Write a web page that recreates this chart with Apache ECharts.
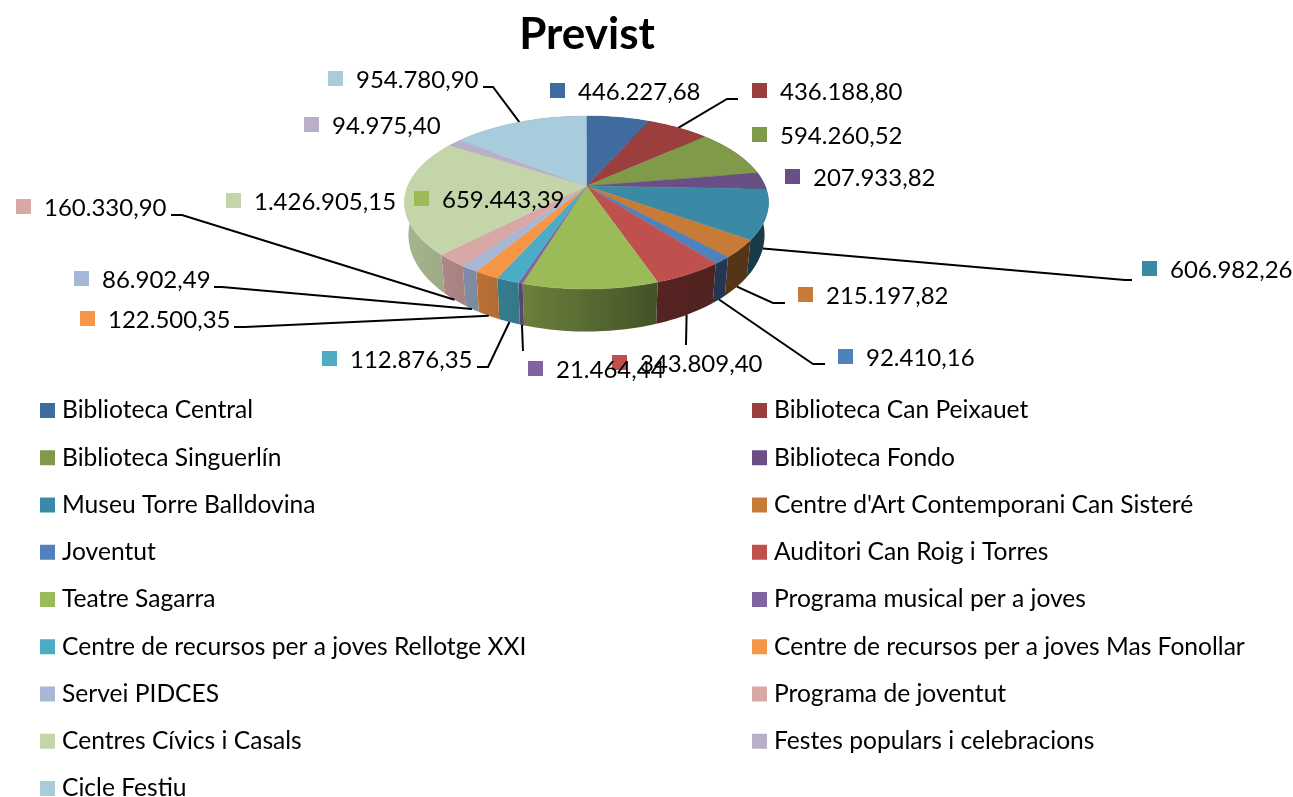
<!DOCTYPE html>
<html>
<head>
<meta charset="utf-8">
<title>Previst</title>
<style>
    html, body { margin: 0; padding: 0; background: #fff; }
    #chart { width: 1293px; height: 797px; }
</style>
</head>
<body>
<div id="chart"></div>
<script src="https://cdn.jsdelivr.net/npm/echarts@6/dist/echarts.min.js"></script>
<script type="text/javascript">
    var names = ['Biblioteca Central', 'Biblioteca Can Peixauet', 'Biblioteca Singuerlín', 'Biblioteca Fondo',
        'Museu Torre Balldovina', "Centre d'Art Contemporani Can Sisteré", 'Joventut', 'Auditori Can Roig i Torres',
        'Teatre Sagarra', 'Programa musical per a joves', 'Centre de recursos per a joves Rellotge XXI',
        'Centre de recursos per a joves Mas Fonollar', 'Servei PIDCES', 'Programa de joventut',
        'Centres Cívics i Casals', 'Festes populars i celebracions', 'Cicle Festiu'];
    var values = [446227.68, 436188.80, 594260.52, 207933.82, 606982.26, 215197.82, 92410.16, 343809.40,
        659443.39, 21464.44, 112876.35, 122500.35, 86902.49, 160330.90, 1426905.15, 94975.40, 954780.90];
    var valueLabels = ['446.227,68', '436.188,80', '594.260,52', '207.933,82', '606.982,26', '215.197,82',
        '92.410,16', '343.809,40', '659.443,39', '21.464,44', '112.876,35', '122.500,35', '86.902,49',
        '160.330,90', '1.426.905,15', '94.975,40', '954.780,90'];
    var colors = ['#3f6b9f', '#9a3f3d', '#7f9a48', '#6a4f85', '#3a8aa5', '#c87b37', '#4f81bd', '#c0504d',
        '#9bbb59', '#8064a2', '#4bacc6', '#f79646', '#a7b7d6', '#d8a8a7', '#c4d5a9', '#b9afc9', '#a8ccdb'];

    // label marker top-left, then the elbow of the leader line (none for slices without one)
    var markerPos = [[550, 83], [752, 83], [752, 127], [785, 169], [1142, 261], [798, 287], [838, 349], [612, 355],
        [414, 191], [528, 361], [322, 351], [80, 311], [74, 271], [16, 199], [226, 193], [304, 117], [328, 71]];
    var leaderPos = [null, [[727, 99], [738, 99]], null, null, [[1125, 280], [1132, 280]], [[773, 303], [785, 303]],
        [[813, 364], [825, 364]], [[686, 345]], null, [[523, 351]], [[488, 367], [477, 367]], [[245, 327], [234, 327]],
        [[222, 287], [214, 287]], [[182, 215], [171, 215]], null, null, [[493, 87], [483, 87]]];

    var FONT = 'Lato';
    var total = 0;
    var starts = [];
    for (var i = 0; i < values.length; i++) {
        starts.push(total);
        total += values[i];
    }

    // perspective view of the disc, top and bottom plane
    var CX = 586.5, PERSP = 0.1908;
    function topPoint(deg) {
        var t = deg * Math.PI / 180, X = Math.sin(t), Y = -Math.cos(t), w = 1 - PERSP * Y;
        return [CX + 178.7 * X / w, 186 + 83.35 * Y / w];
    }
    function bottomPoint(deg) {
        var t = deg * Math.PI / 180, X = Math.sin(t), Y = -Math.cos(t), w = 1 - PERSP * Y;
        return [CX + 174.8 * X / w, 216.6 + 93 * Y / w];
    }
    function arc(fn, from, to) {
        var pts = [], n = Math.max(2, Math.ceil((to - from) / 1.5));
        for (var k = 0; k <= n; k++) {
            pts.push(fn(from + (to - from) * k / n));
        }
        return pts;
    }
    // wall brightness falls from left to right
    function wallFactor(x) {
        var xs = [405, 500, 530, 650, 770], fs = [0.85, 0.72, 0.68, 0.44, 0.42];
        for (var k = 1; k < xs.length; k++) {
            if (x <= xs[k]) {
                return fs[k - 1] + (fs[k] - fs[k - 1]) * (x - xs[k - 1]) / (xs[k] - xs[k - 1]);
            }
        }
        return fs[fs.length - 1];
    }
    function shade(hex, f) {
        var r = parseInt(hex.substr(1, 2), 16), g = parseInt(hex.substr(3, 2), 16), b = parseInt(hex.substr(5, 2), 16);
        return 'rgb(' + Math.round(r * f) + ',' + Math.round(g * f) + ',' + Math.round(b * f) + ')';
    }

    function makeRender(idx) {
        return function (params, api) {
            var from = starts[idx] / total * 360;
            var to = from + api.value(0) / total * 360;
            var mid = (from + to) / 2;
            var color = colors[idx];
            var children = [];

            // wall
            var topArc = arc(topPoint, from, to);
            var botArc = arc(bottomPoint, from, to).reverse();
            var xs = topArc.map(function (p) { return p[0]; });
            var left = Math.min.apply(null, xs), right = Math.max.apply(null, xs);
            children.push({
                type: 'polygon',
                z2: 1,
                shape: { points: topArc.concat(botArc) },
                style: {
                    fill: {
                        type: 'linear', global: true, x: left, y: 0, x2: right, y2: 0,
                        colorStops: [
                            { offset: 0, color: shade(color, wallFactor(left)) },
                            { offset: 1, color: shade(color, wallFactor(right)) }
                        ]
                    }
                }
            });
            // top face
            children.push({
                type: 'polygon',
                z2: 10,
                shape: { points: [[CX, 186]].concat(arc(topPoint, from, to)) },
                style: { fill: color, stroke: color, lineWidth: 0.4 }
            });
            // leader line
            if (leaderPos[idx]) {
                var front = Math.cos(mid * Math.PI / 180) < 0;
                var start = front ? bottomPoint(mid) : topPoint(mid);
                children.push({
                    type: 'polyline',
                    z2: 5,
                    shape: { points: [start].concat(leaderPos[idx]) },
                    style: { fill: null, stroke: '#000', lineWidth: 2 }
                });
            }
            // value label
            var m = markerPos[idx];
            children.push({
                type: 'rect',
                z2: 20,
                shape: { x: m[0], y: m[1], width: 15, height: 15 },
                style: { fill: color }
            });
            children.push({
                type: 'text',
                z2: 21,
                style: {
                    x: m[0] + 28, y: m[1] + 9.5, text: valueLabels[idx],
                    fill: '#000', font: '24px ' + FONT, textAlign: 'left', textVerticalAlign: 'middle'
                }
            });
            return { type: 'group', children: children };
        };
    }

    var seriesList = [];
    for (var j = 0; j < values.length; j++) {
        seriesList.push({
            name: names[j],
            type: 'custom',
            coordinateSystem: 'none',
            silent: true,
            animation: false,
            data: [[values[j]]],
            renderItem: makeRender(j)
        });
    }

    var leftNames = names.filter(function (n, k) { return k % 2 === 0; });
    var rightNames = names.filter(function (n, k) { return k % 2 === 1; });
    function legendAt(x, data) {
        return {
            orient: 'vertical',
            left: x,
            top: 398,
            height: 440,
            padding: 0,
            itemWidth: 15,
            itemHeight: 15,
            itemGap: 22.25,
            icon: 'rect',
            selectedMode: false,
            data: data,
            textStyle: { fontFamily: FONT, fontSize: 24.6, color: '#000', lineHeight: 24, padding: [0, 0, 0, 2] }
        };
    }

    var myChart = echarts.init(document.getElementById('chart'), null, { renderer: 'canvas' });
    myChart.setOption({
        animation: false,
        color: colors,
        title: {
            text: 'Previst',
            left: 582,
            textAlign: 'center',
            top: 8,
            textStyle: { fontFamily: FONT, fontSize: 44, fontWeight: 'bold', color: '#000' }
        },
        legend: [legendAt(40, leftNames), legendAt(752, rightNames)],
        series: seriesList
    });
</script>
</body>
</html>
